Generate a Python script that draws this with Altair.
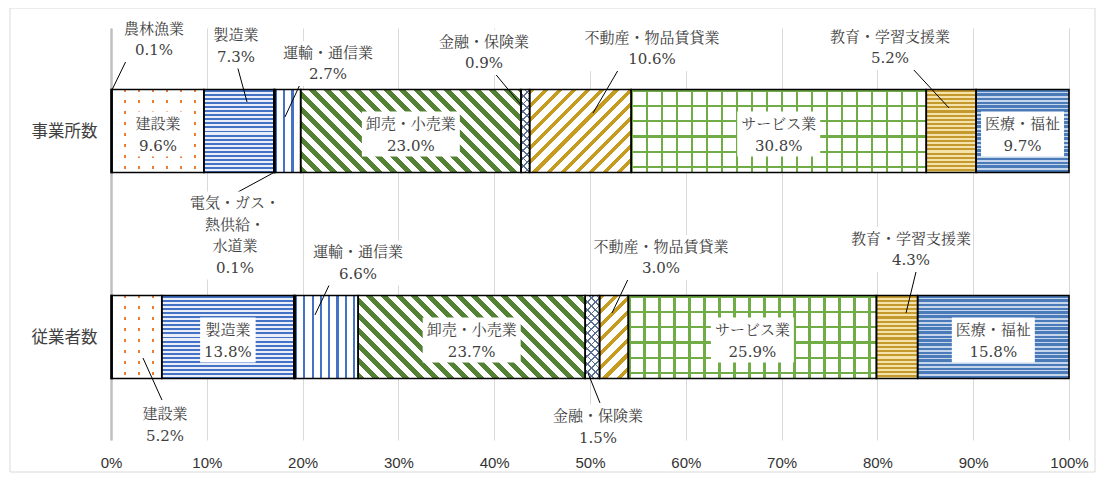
import math
import altair as alt
import pandas as pd

# ---------------- data ----------------
categories = ["農林漁業", "建設業", "製造業", "電気・ガス・熱供給・水道業", "運輸・通信業",
              "卸売・小売業", "金融・保険業", "不動産・物品賃貸業", "サービス業",
              "教育・学習支援業", "医療・福祉"]
display_names = ["農林漁業", "建設業", "製造業", "電気・ガス・\n熱供給・\n水道業", "運輸・通信業",
                 "卸売・小売業", "金融・保険業", "不動産・物品賃貸業", "サービス業",
                 "教育・学習支援業", "医療・福祉"]
rows = ["事業所数", "従業者数"]
establishments = [0.1, 9.6, 7.3, 0.1, 2.7, 23.0, 0.9, 10.6, 30.8, 5.2, 9.7]
employees = [0.1, 5.2, 13.8, 0.1, 6.6, 23.7, 1.5, 3.0, 25.9, 4.3, 15.8]
x_ticks = [0, 10, 20, 30, 40, 50, 60, 70, 80, 90, 100]

# labels drawn inside bars: (row index, category index)
inside_labels = [(0, 1), (0, 5), (0, 8), (0, 10), (1, 2), (1, 5), (1, 8), (1, 10)]
# labels outside bars: row, category, label centre (x %, y row-units), leader from -> to
outside_labels = [
    (0, 0, 4.49, 0.056, 0.10, 0.301, 1.98, 0.121),
    (0, 2, 13.05, 0.087, 13.15, 0.180, 14.20, 0.359),
    (0, 4, 22.65, 0.172, 20.04, 0.243, 18.16, 0.432),
    (0, 6, 38.94, 0.119, 39.87, 0.209, 42.90, 0.379),
    (0, 7, 56.47, 0.100, 53.13, 0.189, 50.31, 0.413),
    (0, 9, 81.32, 0.095, 83.51, 0.189, 87.47, 0.388),
    (0, 3, 12.94, 1.007, 13.26, 0.796, 16.91, 0.704),
    (1, 4, 25.78, 1.141, 23.17, 1.209, 21.29, 1.393),
    (1, 7, 57.41, 1.114, 54.18, 1.199, 52.30, 1.383),
    (1, 9, 83.51, 1.075, 84.13, 1.165, 82.99, 1.383),
    (1, 1, 5.64, 1.927, 3.34, 1.602, 5.32, 1.806),
    (1, 6, 50.84, 1.937, 49.79, 1.675, 51.04, 1.820),
]

# ---------------- layout / style ----------------
W, H = 958, 412
PX_X = W / 100.0          # px per percent
PX_Y = H / 2.0            # px per row unit
BAR_PX = 83
HALF = BAR_PX / 2 / PX_Y
ROW_POS = [0.5, 1.5]
TXT = "#404040"
FONT = "DejaVu Serif, Noto Serif CJK JP, Noto Sans CJK JP"
FS = 15
LH = 21.5
CLEAR = "rgba(255,255,255,0)"

# pattern definitions per category: list of (kind, period px, on px, on colour, off colour)
patterns = {
    0: [("solid", 0, 0, "#ffffff", None)],
    1: [("h", 11, 2.0, "#ED7D31", "#ffffff"), ("v", 14, 12.0, "#ffffff", CLEAR)],
    2: [("h", 4.1, 2.0, "#4472C4", "#e9eef8")],
    3: [("solid", 0, 0, "#FFC000", None)],
    4: [("v", 8.3, 2.2, "#4472C4", "#ffffff")],
    5: [("bs", 10.6, 5.0, "#548235", "#ffffff")],
    6: [("bs", 5.5, 1.3, "#5a6e8f", "#ffffff"), ("fs", 5.5, 1.3, "#5a6e8f", CLEAR)],
    7: [("fs", 10.0, 3.6, "#c59b20", "#ffffff")],
    8: [("v", 15.0, 2.2, "#70AD47", "#ffffff"), ("h", 15.3, 2.2, "#70AD47", CLEAR)],
    9: [("h", 4.2, 2.1, "#c49a2e", "#f4e2a8")],
    10: [("h", 4.0, 2.4, "#4a7ab8", "#c5d6ec")],
}


def lin_grad(x1, y1, x2, y2, L, period, on, c_on, c_off):
    stops = []
    k = 0
    while k * period < L:
        a = k * period / L
        b = min((k * period + on) / L, 1.0)
        c = min((k + 1) * period / L, 1.0)
        stops += [{"offset": round(a, 5), "color": c_on},
                  {"offset": round(b, 5), "color": c_on},
                  {"offset": round(b, 5), "color": c_off},
                  {"offset": round(c, 5), "color": c_off}]
        k += 1
    return {"gradient": "linear", "x1": x1, "y1": y1, "x2": x2, "y2": y2, "stops": stops}


def make_fill(kind, wpx, hpx, period, on, c_on, c_off):
    if kind == "solid":
        return c_on
    if kind == "h":
        return lin_grad(0, 0, 0, 1, hpx, period, on, c_on, c_off)
    if kind == "v":
        return lin_grad(0, 0, 1, 0, wpx, period, on, c_on, c_off)
    wpx = max(wpx, 0.5)
    r = hpx / wpx
    lam = (1 + r) / (1 + r * r)
    L = (wpx + hpx) / math.sqrt(2)
    if kind == "bs":   # "\" stripes
        return lin_grad(0, 1, round(lam, 6), round(1 - lam * r, 6), L, period, on, c_on, c_off)
    return lin_grad(0, 0, round(lam, 6), round(lam * r, 6), L, period, on, c_on, c_off)  # "/"


def text_width(line):
    w = 0
    for ch in line:
        if ord(ch) > 255:
            w += FS
        elif ch == ".":
            w += 4.8
        elif ch == "%":
            w += 14.2
        else:
            w += 9.5
    return w


# ---------------- tables ----------------
series = [establishments, employees]
bar_records = []
for ri, vals in enumerate(series):
    cum = 0.0
    for ci, v in enumerate(vals):
        bar_records.append({"row": rows[ri], "cat": categories[ci], "ri": ri, "ci": ci,
                            "value": v, "start": cum, "end": cum + v,
                            "y0": ROW_POS[ri] - HALF, "y1": ROW_POS[ri] + HALF})
        cum += v
bars = pd.DataFrame(bar_records)

x_scale = alt.Scale(domain=[0, 100], nice=False, zero=False)
y_scale = alt.Scale(domain=[0, 2], reverse=True, nice=False, zero=False)

label_expr = "datum.value < 1 ? '%s' : '%s'" % (rows[0], rows[1])
x_axis = alt.Axis(values=x_ticks, labelExpr="datum.value + '%'", grid=True,
                  gridColor="#d9d9d9", gridWidth=1, domain=False, ticks=False,
                  labelFlush=False,
                  labelFont="Liberation Sans Narrow, Liberation Sans",
                  labelFontSize=15, labelColor="#333333", labelPadding=15, title=None)
y_axis = alt.Axis(values=ROW_POS, labelExpr=label_expr, grid=False, ticks=False,
                  domain=True, domainColor="#bfbfbf", domainWidth=2.5,
                  labelFont="Noto Sans CJK JP", labelFontSize=16.5,
                  labelColor=TXT, labelPadding=14, title=None)


def X(f):
    return alt.X(f, scale=x_scale, axis=x_axis, title=None)


def Y(f):
    return alt.Y(f, scale=y_scale, axis=y_axis, title=None)


layers = []

# bars with patterns
for rec in bar_records:
    wpx = rec["value"] * PX_X
    sub = bars[(bars.ri == rec["ri"]) & (bars.ci == rec["ci"])]
    for (kind, period, on, c_on, c_off) in patterns[rec["ci"]]:
        fill = make_fill(kind, wpx, BAR_PX, period, on, c_on, c_off)
        layers.append(
            alt.Chart(sub).mark_rect(fill=fill, strokeWidth=0).encode(
                x=X("start:Q"), x2="end:Q", y=Y("y0:Q"), y2="y1:Q",
            )
        )

# outlines
layers.append(
    alt.Chart(bars).mark_rect(fillOpacity=0, stroke="black", strokeWidth=1.6).encode(
        x=X("start:Q"), x2="end:Q", y=Y("y0:Q"), y2="y1:Q",
    )
)

# label table (ty = y of first text line)
lab_records = []
for (ri, ci) in inside_labels:
    v = series[ri][ci]
    text = display_names[ci] + "\n" + "%.1f%%" % v
    lines = text.split("\n")
    wpx = max(text_width(l) for l in lines) + 8
    b = bars[(bars.ri == ri) & (bars.ci == ci)].iloc[0]
    xc = (b.start + b.end) / 2
    yc = ROW_POS[ri] + 4 / PX_Y
    lab_records.append({"text": text, "xc": xc,
                        "ty": yc - (len(lines) - 1) * LH / 2 / PX_Y,
                        "bx0": xc - wpx / 2 / PX_X, "bx1": xc + wpx / 2 / PX_X,
                        "by0": ROW_POS[ri] - 19.5 / PX_Y, "by1": ROW_POS[ri] + 25.5 / PX_Y})
lead_records = []
for (ri, ci, xc, yc, lx1, ly1, lx2, ly2) in outside_labels:
    v = series[ri][ci]
    text = display_names[ci] + "\n" + "%.1f%%" % v
    lines = text.split("\n")
    wpx = max(text_width(l) for l in lines) + 4
    hpx = len(lines) * LH + 2
    lab_records.append({"text": text, "xc": xc,
                        "ty": yc - (len(lines) - 1) * LH / 2 / PX_Y,
                        "bx0": xc - wpx / 2 / PX_X, "bx1": xc + wpx / 2 / PX_X,
                        "by0": yc - hpx / 2 / PX_Y, "by1": yc + hpx / 2 / PX_Y})
    lead_records.append({"x1": lx1, "y1": ly1, "x2": lx2, "y2": ly2})
labels = pd.DataFrame(lab_records)
leads = pd.DataFrame(lead_records)

layers.append(
    alt.Chart(leads).mark_rule(color="black", strokeWidth=1).encode(
        x=X("x1:Q"), x2="x2:Q", y=Y("y1:Q"), y2="y2:Q",
    )
)
layers.append(
    alt.Chart(labels).mark_rect(fill="white", strokeWidth=0).encode(
        x=X("bx0:Q"), x2="bx1:Q", y=Y("by0:Q"), y2="by1:Q",
    )
)
layers.append(
    alt.Chart(labels).mark_text(lineBreak="\n", lineHeight=LH, baseline="middle", align="center",
                                font=FONT, fontSize=FS, color=TXT).encode(
        x=X("xc:Q"), y=Y("ty:Q"), text="text:N",
    )
)

# chart frame (outer border of chart area)
layers.append(
    alt.Chart(pd.DataFrame({"k": [0]})).mark_rect(fillOpacity=0, stroke="#d9d9d9", strokeWidth=1)
    .encode(x=alt.value(-101), x2=alt.value(984), y=alt.value(-20), y2=alt.value(444))
)

chart = alt.layer(*layers).properties(
    width=W, height=H,
    background="white",
    autosize=alt.AutoSizeParams(type="none"),
    padding={"left": 103, "top": 20, "right": 27, "bottom": 33},
).configure_view(stroke=None)

chart.save("out.html", embed_options={"renderer": "svg", "actions": False})
